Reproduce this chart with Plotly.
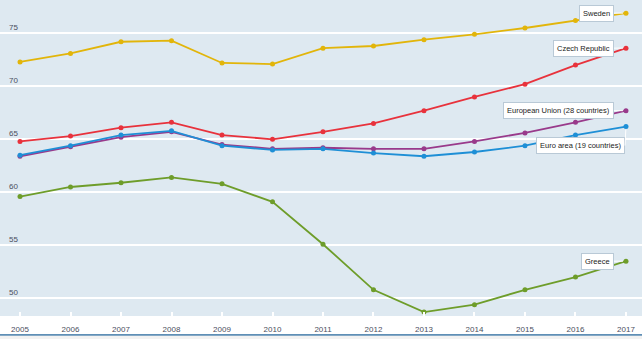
import plotly.graph_objects as go

years = list(range(2005, 2018))
sweden = [72.3, 73.1, 74.2, 74.3, 72.2, 72.1, 73.6, 73.8, 74.4, 74.9, 75.5, 76.2, 76.9]
czech = [64.8, 65.3, 66.1, 66.6, 65.4, 65.0, 65.7, 66.5, 67.7, 69.0, 70.2, 72.0, 73.6]
eu28 = [63.4, 64.3, 65.2, 65.7, 64.5, 64.1, 64.2, 64.1, 64.1, 64.8, 65.6, 66.6, 67.7]
euro19 = [63.5, 64.4, 65.4, 65.8, 64.4, 64.0, 64.1, 63.7, 63.4, 63.8, 64.4, 65.4, 66.2]
greece = [59.6, 60.5, 60.9, 61.4, 60.8, 59.1, 55.1, 50.8, 48.7, 49.4, 50.8, 52.0, 53.5]

names = ["Sweden", "Czech Republic", "European Union (28 countries)", "Euro area (19 countries)", "Greece"]
series = [sweden, czech, eu28, euro19, greece]
colors = ["#e2b50a", "#e8323c", "#993a8b", "#1e8fd6", "#6e9d2a"]
y_ticks = [50, 55, 60, 65, 70, 75]

fig = go.Figure()
for i in range(len(names)):
    fig.add_trace(go.Scatter(x=years, y=series[i], name=names[i], mode="lines+markers",
                             line=dict(color=colors[i], width=1.8),
                             marker=dict(color=colors[i], size=5)))

# label offsets (pixels) for end-of-line callouts
offsets = [(-12, 0), (-12, 0), (-12, 0), (-1, 19), (-12, 0)]
for name, vals, col, (ax, ay) in zip(names, series, colors, offsets):
    fig.add_annotation(x=years[-1], y=vals[-1], text=name, showarrow=True,
                       ax=ax, ay=ay, xanchor="right", yanchor="middle",
                       arrowhead=0, arrowwidth=1, arrowcolor="#ffffff", standoff=3,
                       bgcolor="#ffffff", bordercolor="#b9c9d6", borderwidth=1, borderpad=3,
                       font=dict(family="Liberation Sans", size=7.5, color="#222222"))

fig.update_layout(
    width=642, height=339,
    margin=dict(l=0, r=0, t=0, b=23),
    paper_bgcolor="#ffffff", plot_bgcolor="#dee9f1",
    showlegend=False,
    font=dict(family="Liberation Sans", size=8, color="#4a4e5e"),
    xaxis=dict(range=[2004.604, 2017.317], tickvals=years, ticktext=[str(y) for y in years],
               showgrid=False, zeroline=False, ticks="inside", ticklen=4, tickcolor="#ffffff",
               tickwidth=1.5, ticklabelstandoff=7,
               tickfont=dict(size=8, color="#4a4e5e"), fixedrange=True),
    yaxis=dict(range=[48.33, 78.14], tickvals=y_ticks, ticktext=[str(v) for v in y_ticks],
               showgrid=True, gridcolor="#ffffff", gridwidth=1.5, zeroline=False,
               ticklabelposition="inside", ticklabelshift=-6, ticklabelstandoff=6,
               tickfont=dict(size=8, color="#4a4e5e"), fixedrange=True),
    shapes=[
        dict(type="line", xref="paper", yref="paper", x0=0, x1=1, y0=-0.06, y1=-0.06,
             line=dict(color="#2a6a9e", width=1.5)),
        dict(type="rect", xref="paper", yref="paper", x0=0, x1=1, y0=-0.075, y1=-0.0625,
             fillcolor="#f2f2f2", line=dict(width=0)),
    ],
)

fig.write_html("out.html")
